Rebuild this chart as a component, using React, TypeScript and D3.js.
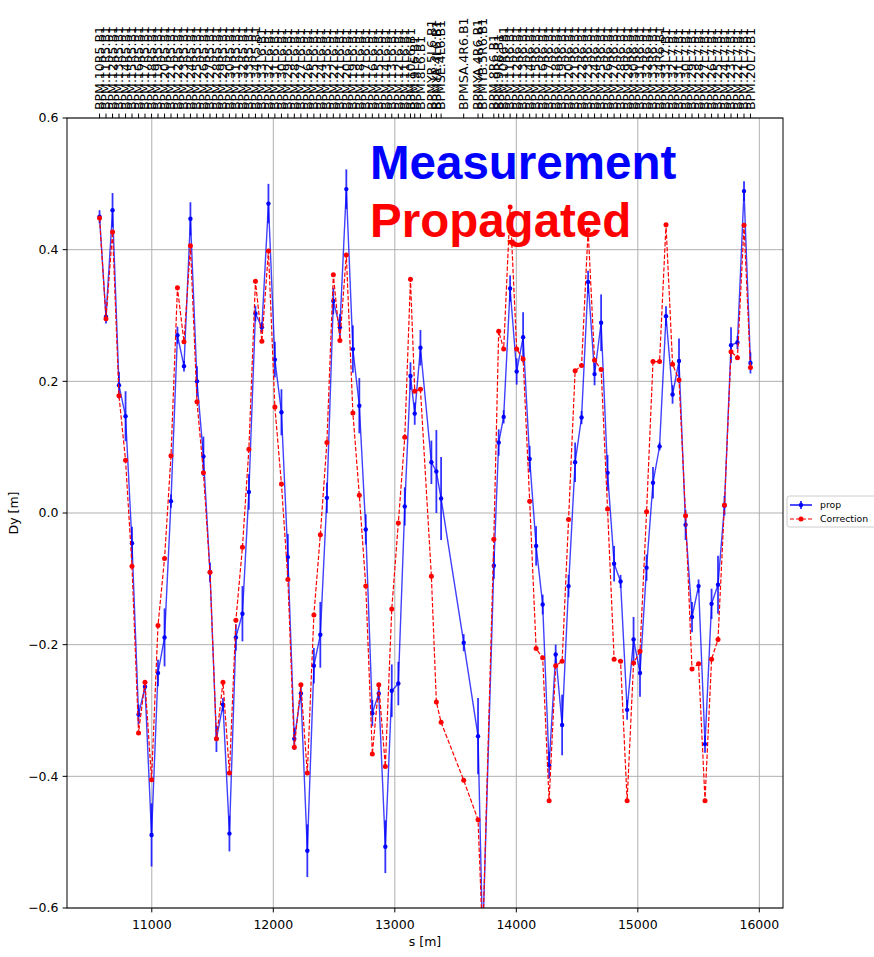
import React, { useEffect, useRef } from 'react';
import * as d3 from 'd3';

// BPM names along the top axis (IR5 right -> IR7 left, beam 1)
const bpmNames = [
    'BPM.10R5.B1', 'BPM.11R5.B1', 'BPM.12R5.B1', 'BPM.13R5.B1', 'BPM.14R5.B1', 'BPM.15R5.B1', 'BPM.16R5.B1',
    'BPM.17R5.B1', 'BPM.18R5.B1', 'BPM.19R5.B1', 'BPM.20R5.B1', 'BPM.21R5.B1', 'BPM.22R5.B1', 'BPM.23R5.B1',
    'BPM.24R5.B1', 'BPM.25R5.B1', 'BPM.26R5.B1', 'BPM.27R5.B1', 'BPM.28R5.B1', 'BPM.29R5.B1', 'BPM.30R5.B1',
    'BPM.31R5.B1', 'BPM.32R5.B1', 'BPM.33R5.B1', 'BPM.34R5.B1',
    'BPM.33L6.B1', 'BPM.32L6.B1', 'BPM.31L6.B1', 'BPM.30L6.B1', 'BPM.29L6.B1', 'BPM.28L6.B1', 'BPM.27L6.B1',
    'BPM.26L6.B1', 'BPM.25L6.B1', 'BPM.24L6.B1', 'BPM.23L6.B1', 'BPM.22L6.B1', 'BPM.21L6.B1', 'BPM.20L6.B1',
    'BPM.19L6.B1', 'BPM.18L6.B1', 'BPM.17L6.B1', 'BPM.16L6.B1', 'BPM.15L6.B1', 'BPM.14L6.B1', 'BPM.13L6.B1',
    'BPM.12L6.B1', 'BPM.11L6.B1', 'BPM.10L6.B1', 'BPM.9L6.B1', 'BPM.8L6.B1',
    'BPMYB.5L6.B1', 'BPMYA.4L6.B1', 'BPMSE.4L6.B1', 'BPMSA.4R6.B1', 'BPMYA.4R6.B1', 'BPMYB.5R6.B1',
    'BPM.8R6.B1', 'BPM.9R6.B1', 'BPM.10R6.B1', 'BPM.11R6.B1', 'BPM.12R6.B1', 'BPM.13R6.B1', 'BPM.14R6.B1',
    'BPM.15R6.B1', 'BPM.16R6.B1', 'BPM.17R6.B1', 'BPM.18R6.B1', 'BPM.19R6.B1', 'BPM.20R6.B1', 'BPM.21R6.B1',
    'BPM.22R6.B1', 'BPM.23R6.B1', 'BPM.24R6.B1', 'BPM.25R6.B1', 'BPM.26R6.B1', 'BPM.27R6.B1', 'BPM.28R6.B1',
    'BPM.29R6.B1', 'BPM.30R6.B1', 'BPM.31R6.B1', 'BPM.32R6.B1', 'BPM.33R6.B1', 'BPM.34R6.B1',
    'BPM.33L7.B1', 'BPM.32L7.B1', 'BPM.31L7.B1', 'BPM.30L7.B1', 'BPM.29L7.B1', 'BPM.28L7.B1', 'BPM.27L7.B1',
    'BPM.26L7.B1', 'BPM.25L7.B1', 'BPM.24L7.B1', 'BPM.23L7.B1', 'BPM.22L7.B1', 'BPM.21L7.B1', 'BPM.20L7.B1',
];

// longitudinal position of each BPM [m]
const sPos = [
    10570, 10623, 10677, 10730, 10784, 10837, 10891, 10944, 10998, 11051,
    11105, 11158, 11211, 11265, 11318, 11372, 11425, 11479, 11532, 11586,
    11639, 11692, 11746, 11799, 11853, 11906, 11960, 12013, 12067, 12120,
    12173, 12227, 12280, 12334, 12387, 12441, 12494, 12548, 12601, 12655,
    12708, 12761, 12815, 12868, 12922, 12975, 13029, 13082, 13129, 13164,
    13211, 13301, 13342, 13381, 13567, 13685, 13723, 13815, 13855, 13896,
    13949, 14003, 14056, 14110, 14163, 14217, 14270, 14324, 14377, 14430,
    14484, 14537, 14591, 14644, 14698, 14751, 14805, 14858, 14912, 14965,
    15018, 15072, 15125, 15179, 15232, 15286, 15339, 15393, 15446, 15500,
    15553, 15607, 15660, 15713, 15767, 15820, 15874, 15927,
];

// prop (measurement) Dy [m]
const measured = [
    0.450, 0.298, 0.460, 0.194, 0.147, -0.046, -0.306, -0.264, -0.489, -0.243,
    -0.189, 0.018, 0.270, 0.223, 0.447, 0.200, 0.086, -0.090, -0.343, -0.291,
    -0.487, -0.189, -0.153, 0.032, 0.303, 0.282, 0.470, 0.233, 0.153, -0.067,
    -0.343, -0.274, -0.513, -0.232, -0.185, 0.023, 0.322, 0.282, 0.492, 0.249,
    0.163, -0.025, -0.304, -0.274, -0.507, -0.270, -0.259, 0.010, 0.208, 0.151,
    0.251, 0.077, 0.063, 0.022, -0.197, -0.339, -0.650, -0.080, 0.107, 0.146,
    0.341, 0.215, 0.267, 0.082, -0.050, -0.139, -0.383, -0.215, -0.322, -0.111,
    0.077, 0.145, 0.351, 0.211, 0.289, 0.061, -0.077, -0.104, -0.299, -0.192,
    -0.243, -0.083, 0.046, 0.101, 0.299, 0.180, 0.231, -0.018, -0.158, -0.111,
    -0.351, -0.138, -0.109, 0.011, 0.255, 0.259, 0.489, 0.228,
];

// error bars of the measurement
const measuredErr = [
    0.010, 0.010, 0.026, 0.020, 0.038, 0.025, 0.015, 0.005, 0.048, 0.020,
    0.044, 0.010, 0.013, 0.008, 0.025, 0.023, 0.030, 0.015, 0.020, 0.010,
    0.027, 0.020, 0.042, 0.027, 0.012, 0.008, 0.030, 0.027, 0.035, 0.035,
    0.017, 0.010, 0.040, 0.027, 0.050, 0.023, 0.020, 0.020, 0.030, 0.036,
    0.042, 0.023, 0.020, 0.010, 0.040, 0.040, 0.033, 0.029, 0.021, 0.017,
    0.027, 0.033, 0.063, 0.063, 0.013, 0.058, 0.030, 0.020, 0.020, 0.010,
    0.020, 0.020, 0.038, 0.020, 0.030, 0.015, 0.020, 0.015, 0.046, 0.017,
    0.030, 0.010, 0.017, 0.017, 0.043, 0.027, 0.027, 0.010, 0.015, 0.034,
    0.036, 0.020, 0.024, 0.006, 0.015, 0.014, 0.034, 0.023, 0.023, 0.010,
    0.013, 0.023, 0.044, 0.015, 0.027, 0.010, 0.015, 0.016,
];

// Correction (propagated) Dy [m]
const propagated = [
    0.448, 0.295, 0.427, 0.178, 0.080, -0.081, -0.334, -0.257, -0.405, -0.171,
    -0.069, 0.087, 0.342, 0.260, 0.406, 0.169, 0.061, -0.090, -0.343, -0.257,
    -0.395, -0.163, -0.052, 0.097, 0.352, 0.261, 0.398, 0.161, 0.044, -0.101,
    -0.356, -0.261, -0.395, -0.155, -0.033, 0.107, 0.362, 0.262, 0.392, 0.152,
    0.027, -0.111, -0.366, -0.261, -0.385, -0.146, -0.015, 0.115, 0.355, 0.185,
    0.188, -0.096, -0.287, -0.318, -0.406, -0.466, -0.650, -0.040, 0.276, 0.249,
    0.465, 0.249, 0.234, 0.018, -0.206, -0.220, -0.437, -0.232, -0.225, -0.010,
    0.216, 0.224, 0.430, 0.232, 0.218, 0.006, -0.222, -0.225, -0.437, -0.228,
    -0.210, 0.002, 0.230, 0.230, 0.438, 0.226, 0.202, -0.004, -0.237, -0.229,
    -0.437, -0.222, -0.192, 0.012, 0.245, 0.236, 0.437, 0.221,
];

const xTicks = [11000, 12000, 13000, 14000, 15000, 16000];
const yTicks = [-0.6, -0.4, -0.2, 0.0, 0.2, 0.4, 0.6];

const FONT = 'DejaVu Sans, sans-serif';

const App: React.FC = () => {
    const ref = useRef<SVGSVGElement>(null);
    const W = 874;
    const H = 957;
    const margin = { top: 118, right: 91, bottom: 49, left: 67 };
    const width = W - margin.left - margin.right;
    const height = H - margin.top - margin.bottom;

    useEffect(() => {
        if (!ref.current) return;
        const root = d3.select(ref.current);
        root.selectAll('*').remove();

        const xMin = d3.min(sPos) as number;
        const xMax = d3.max(sPos) as number;
        const pad = (xMax - xMin) * 0.05;

        const x = d3.scaleLinear().domain([xMin - pad, xMax + pad]).range([0, width]);
        const y = d3.scaleLinear().domain([-0.6, 0.6]).range([height, 0]);

        root.append('defs')
            .append('clipPath')
            .attr('id', 'plot-clip')
            .append('rect')
            .attr('width', width)
            .attr('height', height);

        const g = root.append('g').attr('transform', `translate(${margin.left},${margin.top})`);

        // сетка
        g.append('g')
            .selectAll('line')
            .data(xTicks)
            .enter()
            .append('line')
            .attr('x1', (d) => x(d))
            .attr('x2', (d) => x(d))
            .attr('y1', 0)
            .attr('y2', height)
            .attr('stroke', '#b0b0b0')
            .attr('stroke-width', 1);
        g.append('g')
            .selectAll('line')
            .data(yTicks)
            .enter()
            .append('line')
            .attr('x1', 0)
            .attr('x2', width)
            .attr('y1', (d) => y(d))
            .attr('y2', (d) => y(d))
            .attr('stroke', '#b0b0b0')
            .attr('stroke-width', 1);

        const plot = g.append('g').attr('clip-path', 'url(#plot-clip)');

        // measurement with error bars
        const idx = d3.range(sPos.length);
        plot.append('g')
            .selectAll('line')
            .data(idx)
            .enter()
            .append('line')
            .attr('x1', (i) => x(sPos[i]))
            .attr('x2', (i) => x(sPos[i]))
            .attr('y1', (i) => y(measured[i] - measuredErr[i]))
            .attr('y2', (i) => y(measured[i] + measuredErr[i]))
            .attr('stroke', '#0000ff')
            .attr('stroke-opacity', 0.8)
            .attr('stroke-width', 1.8);

        const line = d3
            .line<number>()
            .x((i) => x(sPos[i]))
            .y((i) => y(measured[i]));
        plot.append('path')
            .datum(idx)
            .attr('fill', 'none')
            .attr('stroke', '#0000ff')
            .attr('stroke-opacity', 0.75)
            .attr('stroke-width', 1.4)
            .attr('d', line);
        plot.append('g')
            .selectAll('circle')
            .data(idx)
            .enter()
            .append('circle')
            .attr('cx', (i) => x(sPos[i]))
            .attr('cy', (i) => y(measured[i]))
            .attr('r', 2.2)
            .attr('fill', '#0000ff');

        // propagated correction
        const redLine = d3
            .line<number>()
            .x((i) => x(sPos[i]))
            .y((i) => y(propagated[i]));
        plot.append('path')
            .datum(idx)
            .attr('fill', 'none')
            .attr('stroke', '#ff0000')
            .attr('stroke-width', 1.2)
            .attr('stroke-dasharray', '4.4,1.9')
            .attr('d', redLine);
        plot.append('g')
            .selectAll('circle')
            .data(idx)
            .enter()
            .append('circle')
            .attr('cx', (i) => x(sPos[i]))
            .attr('cy', (i) => y(propagated[i]))
            .attr('r', 2.5)
            .attr('fill', '#ff0000');

        // рамка
        g.append('rect')
            .attr('width', width)
            .attr('height', height)
            .attr('fill', 'none')
            .attr('stroke', '#000')
            .attr('stroke-width', 1);

        // оси
        const xAxis = g.append('g').attr('transform', `translate(0,${height})`);
        xTicks.forEach((t) => {
            xAxis.append('line').attr('x1', x(t)).attr('x2', x(t)).attr('y1', 0).attr('y2', 4.4).attr('stroke', '#000');
            xAxis.append('text')
                .attr('x', x(t))
                .attr('y', 21)
                .attr('text-anchor', 'middle')
                .attr('font-family', FONT)
                .attr('font-size', 12.5)
                .text(String(t));
        });

        const yAxis = g.append('g');
        yTicks.forEach((t) => {
            yAxis.append('line').attr('x1', -4.4).attr('x2', 0).attr('y1', y(t)).attr('y2', y(t)).attr('stroke', '#000');
            yAxis.append('text')
                .attr('x', -8.5)
                .attr('y', y(t))
                .attr('dy', '0.35em')
                .attr('text-anchor', 'end')
                .attr('font-family', FONT)
                .attr('font-size', 12.5)
                .text(d3.format('.1f')(t).replace('-', '\u2212'));
        });

        // верхняя ось с именами BPM
        const top = g.append('g');
        sPos.forEach((s, i) => {
            top.append('line').attr('x1', x(s)).attr('x2', x(s)).attr('y1', 0).attr('y2', -4.4).attr('stroke', '#000');
            top.append('text')
                .attr('transform', `translate(${x(s)},${-8})rotate(-90)`)
                .attr('dy', '0.35em')
                .attr('text-anchor', 'start')
                .attr('font-family', FONT)
                .attr('font-size', 12.5)
                .text(bpmNames[i]);
        });

        root.append('text')
            .attr('x', margin.left + width / 2)
            .attr('y', 946)
            .attr('text-anchor', 'middle')
            .attr('font-family', FONT)
            .attr('font-size', 12.5)
            .text('s [m]');
        root.append('text')
            .attr('transform', `translate(18,${margin.top + height / 2})rotate(-90)`)
            .attr('text-anchor', 'middle')
            .attr('font-family', FONT)
            .attr('font-size', 12.5)
            .text('Dy [m]');

        // заголовок
        root.append('text')
            .attr('x', 370)
            .attr('y', 179)
            .attr('font-family', 'Liberation Sans, Arial, sans-serif')
            .attr('font-weight', 'bold')
            .attr('font-size', 47.5)
            .attr('fill', '#0000ff')
            .text('Measurement');
        root.append('text')
            .attr('x', 370)
            .attr('y', 237)
            .attr('font-family', 'Liberation Sans, Arial, sans-serif')
            .attr('font-weight', 'bold')
            .attr('font-size', 47.5)
            .attr('fill', '#ff0000')
            .text('Propagated');

        // Легенда
        const legend = root.append('g').attr('transform', 'translate(787,496)');
        legend.append('rect')
            .attr('width', 92)
            .attr('height', 31)
            .attr('rx', 2.5)
            .attr('fill', '#fff')
            .attr('stroke', '#cccccc')
            .attr('stroke-width', 1);
        legend.append('line').attr('x1', 3).attr('x2', 25).attr('y1', 9).attr('y2', 9).attr('stroke', '#0000ff').attr('stroke-width', 1.4);
        legend.append('line').attr('x1', 14).attr('x2', 14).attr('y1', 5).attr('y2', 13).attr('stroke', '#0000ff').attr('stroke-width', 1.5);
        legend.append('circle').attr('cx', 14).attr('cy', 9).attr('r', 2.2).attr('fill', '#0000ff');
        legend.append('line')
            .attr('x1', 3)
            .attr('x2', 25)
            .attr('y1', 23)
            .attr('y2', 23)
            .attr('stroke', '#ff0000')
            .attr('stroke-width', 1.2)
            .attr('stroke-dasharray', '4,2');
        legend.append('circle').attr('cx', 14).attr('cy', 23).attr('r', 2.5).attr('fill', '#ff0000');
        legend.append('text').attr('x', 33).attr('y', 9).attr('dy', '0.35em').attr('font-family', FONT).attr('font-size', 9.3).text('prop');
        legend.append('text').attr('x', 33).attr('y', 23).attr('dy', '0.35em').attr('font-family', FONT).attr('font-size', 9.3).text('Correction');
    }, []);

    return (
        <svg
            ref={ref}
            width={W}
            height={H}
            style={{ position: 'absolute', left: 0, top: 0, background: '#fff' }}
        />
    );
};

export default App;
